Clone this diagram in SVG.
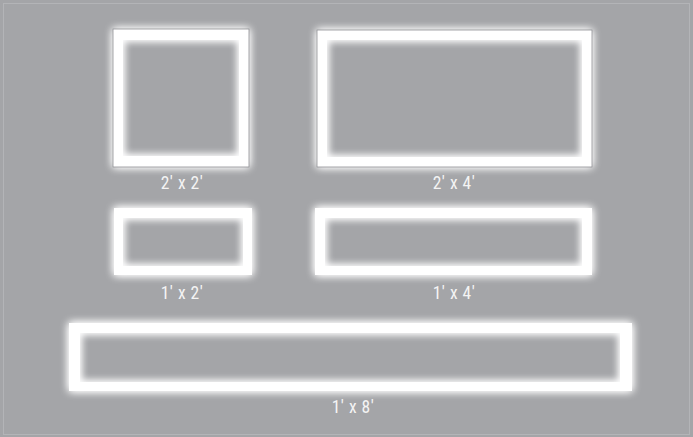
<svg xmlns="http://www.w3.org/2000/svg" width="693" height="437" viewBox="0 0 693 437">
  <defs>
    <filter id="glow" x="-20%" y="-40%" width="140%" height="180%">
      <feGaussianBlur in="SourceGraphic" stdDeviation="4.5" result="b"/>
      <feMerge>
        <feMergeNode in="b"/>
        <feMergeNode in="b"/>
        <feMergeNode in="SourceGraphic"/>
      </feMerge>
    </filter>
  </defs>
  <style>
    .bg { fill: #a4a5a8; }
    .border { fill: none; stroke: #b3b4b7; stroke-width: 1; }
    .frame { fill: #ffffff; fill-rule: evenodd; filter: url(#glow); }
    .edge { fill: none; stroke: #8e8f93; stroke-width: 0.8; }
    .label { font-family: "Liberation Sans Narrow", "Roboto Condensed", "Roboto", "Liberation Sans", sans-serif; font-size: 17.5px; letter-spacing: 0.5px; fill: #f4f4f4; text-anchor: middle; }
  </style>
  <rect class="bg" x="0" y="0" width="693" height="437"/>
  <rect class="border" x="3.5" y="3.5" width="686" height="431"/>

  <g id="panel-2x2">
    <path class="frame" d="M113,29 H249 V167 H113 Z M123,40 V156 H239 V40 Z"/>
    <rect class="edge" x="113" y="29" width="136" height="138"/>
    <text class="label" x="182" y="189">2' x 2'</text>
  </g>

  <g id="panel-2x4">
    <path class="frame" d="M317,30 H592 V167 H317 Z M327,40 V157 H582 V40 Z"/>
    <rect class="edge" x="317" y="30" width="275" height="137"/>
    <text class="label" x="454" y="189">2' x 4'</text>
  </g>

  <g id="panel-1x2">
    <path class="frame" d="M114,208 H252 V275 H114 Z M123,218 V266 H243 V218 Z"/>
    <text class="label" x="182" y="299">1' x 2'</text>
  </g>

  <g id="panel-1x4">
    <path class="frame" d="M315,208 H592 V275 H315 Z M325,218 V266 H582 V218 Z"/>
    <text class="label" x="454" y="299">1' x 4'</text>
  </g>

  <g id="panel-1x8">
    <path class="frame" d="M69,323 H632 V391 H69 Z M80,333 V382 H620 V333 Z"/>
    <text class="label" x="353" y="413">1' x 8'</text>
  </g>

  <g id="connectors"/>
</svg>
